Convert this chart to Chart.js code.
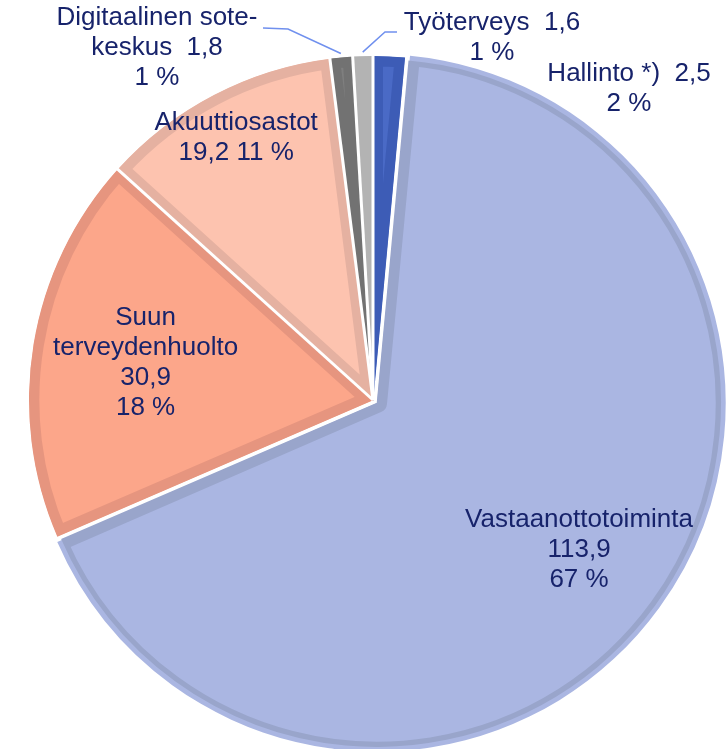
<!DOCTYPE html>
<html>
<head>
<meta charset="utf-8">
<script src="https://cdn.jsdelivr.net/npm/chart.js@4.4.1/dist/chart.umd.min.js"></script>
<style>
  html, body { margin: 0; padding: 0; background: #fff; }
  #wrap { width: 728px; height: 749px; position: relative; }
</style>
</head>
<body>
<div id="wrap"><canvas id="pie"></canvas></div>
<script>
/* ── Data ── */
const names  = [['Hallinto *)'], ['Vastaanottotoiminta'], ['Suun', 'terveydenhuolto'],
                ['Akuuttiosastot'], ['Digitaalinen sote-', 'keskus'], ['Työterveys']];
const values = [2.5, 113.9, 30.9, 19.2, 1.8, 1.6];
const pcts   = [2, 67, 18, 11, 1, 1];

/* ── Look ── */
const fills  = ['#4A6AC6', '#AAB6E2', '#FCA68A', '#FDC3AF', '#7F7F7F', '#C3C3C3'];
const bands  = ['#3D5CB6', '#99A5CB', '#E6957F', '#E5B1A1', '#727272', '#B3B3B3'];
const offsets = [0, 20, 0, 0, 0, 0];
// how name / value / percent are stacked in each label
const styles = ['inline', 'stack', 'stack', 'pair', 'inline', 'inline'];
// inside labels: fraction of radius along mid angle; outside: fixed centre
const place = [{ x: 629, y: 89 }, { r: 0.74 }, { r: 0.67 }, { r: 0.86 },
               { x: 157, y: 48 }, { x: 492, y: 38 }];
const leaders = [null, null, null, null, [[263, 28], [288, 29]], [[397, 32], [385, 32]]];

const TEXT = '#17236B';
const LINE_H = 30;

function labelLines(i) {
    const v = values[i].toFixed(1).replace('.', ',');
    const p = pcts[i] + ' %';
    const n = names[i].slice();
    if (styles[i] === 'inline') { n[n.length - 1] += '  ' + v; return [...n, p]; }
    if (styles[i] === 'pair') return [...n, v + ' ' + p];
    return [...n, v, p];
}

/* ── Separators, leaders, labels ── */
const pieDecor = {
    id: 'pieDecor',
    afterDatasetsDraw(chart) {
        const ctx = chart.ctx;
        const arcs = chart.getDatasetMeta(0).data;

        // white gaps between the slices that are not exploded
        ctx.save();
        ctx.strokeStyle = '#fff';
        ctx.lineWidth = 3;
        arcs.forEach((a, i) => {
            if (offsets[i] || offsets[(i + arcs.length - 1) % arcs.length]) return;
            const r = a.outerRadius + 3;
            ctx.beginPath();
            ctx.moveTo(a.x, a.y);
            ctx.lineTo(a.x + Math.cos(a.startAngle) * r, a.y + Math.sin(a.startAngle) * r);
            ctx.stroke();
        });
        ctx.restore();

        // leader lines
        ctx.save();
        ctx.strokeStyle = '#7090EE';
        ctx.lineWidth = 1.5;
        arcs.forEach((a, i) => {
            if (!leaders[i]) return;
            const mid = (a.startAngle + a.endAngle) / 2;
            const r = a.outerRadius + 4;
            ctx.beginPath();
            leaders[i].forEach(([x, y], k) => k ? ctx.lineTo(x, y) : ctx.moveTo(x, y));
            ctx.lineTo(a.x + Math.cos(mid) * r, a.y + Math.sin(mid) * r);
            ctx.stroke();
        });
        ctx.restore();

        // labels
        ctx.save();
        ctx.font = '26px "Liberation Sans", Arial, sans-serif';
        ctx.fillStyle = TEXT;
        ctx.textAlign = 'center';
        ctx.textBaseline = 'middle';
        arcs.forEach((a, i) => {
            const pl = place[i];
            let cx, cy;
            if (pl.r) {
                const mid = (a.startAngle + a.endAngle) / 2;
                cx = a.x + Math.cos(mid) * pl.r * a.outerRadius;
                cy = a.y + Math.sin(mid) * pl.r * a.outerRadius;
            } else { cx = pl.x; cy = pl.y; }
            const lines = labelLines(i);
            lines.forEach((t, k) => ctx.fillText(t, cx, cy + (k - (lines.length - 1) / 2) * LINE_H));
        });
        ctx.restore();
    }
};

new Chart(document.getElementById('pie'), {
    type: 'pie',
    data: {
        labels: names.map(n => n.join(' ')),
        datasets: [{
            data: values,
            backgroundColor: fills,
            borderColor: bands,
            borderWidth: 10,
            borderAlign: 'inner',
            offset: offsets,
        }],
    },
    options: {
        responsive: true, maintainAspectRatio: false,
        animation: false,
        radius: 344,
        layout: { padding: { left: 18, top: 51, right: 0, bottom: 0 } },
        plugins: { legend: { display: false }, tooltip: { enabled: false } },
    },
    plugins: [pieDecor],
});
</script>
</body>
</html>
